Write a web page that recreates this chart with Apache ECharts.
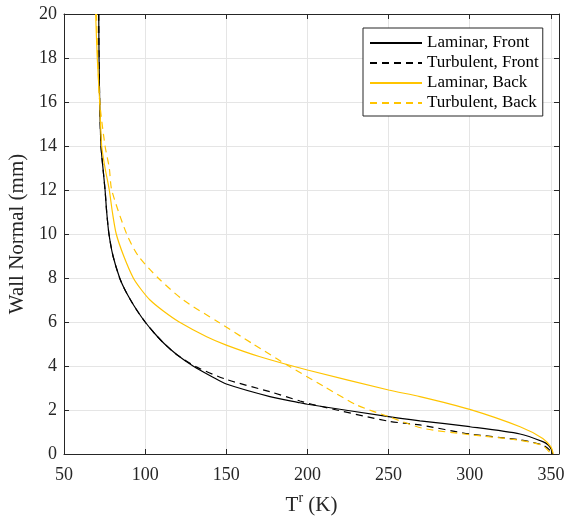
<!DOCTYPE html>
<html>
<head>
<meta charset="utf-8">
<script src="https://cdn.jsdelivr.net/npm/echarts@6/dist/echarts.min.js"></script>
<style>html,body{margin:0;padding:0;background:#fff}#c{width:566px;height:516px}</style>
</head>
<body>
<div id="c"></div>
<script>
// ---- data ----
const seriesNames = ['Laminar, Front', 'Turbulent, Front', 'Laminar, Back', 'Turbulent, Back'];

const laminarFrontT = [71.4, 71.6, 72.0, 72.8, 74.0, 75.3, 76.3, 77.7, 80.2, 84.3, 87.3, 91.0, 95.2, 100.0, 105.6, 112.0, 119.8, 129.5, 141.5, 150, 176.9, 195.4, 200, 250, 269.3, 300, 331, 345, 348.5, 350.5, 351];
const laminarFrontY = [20, 18, 16, 14, 13, 12, 11, 10, 9, 8, 7.5, 7, 6.5, 6, 5.5, 5, 4.5, 4, 3.5, 3.18, 2.61, 2.33, 2.26, 1.70, 1.51, 1.24, 0.91, 0.56, 0.40, 0.18, 0];

const turbulentFrontT = [71.4, 71.6, 72.0, 72.8, 74.0, 75.3, 76.3, 77.7, 80.2, 84.3, 87.3, 91.0, 95.2, 100.0, 105.6, 112.0, 119.8, 131.8, 150, 176.9, 195.4, 205, 250, 269.3, 300, 331, 345, 349, 350.5];
const turbulentFrontY = [20, 18, 16, 14, 13, 12, 11, 10, 9, 8, 7.5, 7, 6.5, 6, 5.5, 5, 4.5, 3.95, 3.39, 2.83, 2.41, 2.22, 1.49, 1.32, 0.91, 0.64, 0.41, 0.2, 0];

const laminarBackT = [69.5, 70.5, 72.0, 73.2, 75.3, 77.9, 79.8, 82.2, 86.8, 92.7, 97.3, 103.0, 111.2, 121.0, 137.9, 150, 170.8, 200, 250, 269.3, 300, 331, 345, 350, 351.5];
const laminarBackY = [20, 18, 16, 14, 13, 12, 11, 10, 9, 8, 7.5, 7, 6.5, 6, 5.33, 4.95, 4.42, 3.82, 2.91, 2.61, 2.03, 1.24, 0.71, 0.32, 0];

const turbulentBackT = [70.0, 70.8, 72.0, 75.3, 77.9, 79.4, 88.6, 95.8, 108, 123.5, 145, 166.5, 188.5, 210, 230.3, 250, 271, 300, 331, 345, 350];
const turbulentBackY = [20, 18, 16, 14, 13, 12, 10, 9, 8, 7, 6, 5, 4, 3.08, 2.23, 1.70, 1.17, 0.88, 0.62, 0.38, 0];

const xTickMin = 50, xTickMax = 355, xTickStep = 50;
const yTickMin = 0, yTickMax = 20, yTickStep = 2;

// ---- chart ----
const font = 'Liberation Serif';
const axisColor = '#262626';
const yellow = '#FFC400';

function pairs(xs, ys) { return xs.map((x, i) => [x, ys[i]]); }

const seriesDefs = [
  { name: seriesNames[0], data: pairs(laminarFrontT, laminarFrontY), color: '#000000', type: 'solid' },
  { name: seriesNames[1], data: pairs(turbulentFrontT, turbulentFrontY), color: '#000000', type: [7, 5] },
  { name: seriesNames[2], data: pairs(laminarBackT, laminarBackY), color: yellow, type: 'solid' },
  { name: seriesNames[3], data: pairs(turbulentBackT, turbulentBackY), color: yellow, type: [7, 5] }
];

const chart = echarts.init(document.getElementById('c'), null, { renderer: 'canvas' });

const baseAxis = {
  axisLine: { show: true, onZero: false, lineStyle: { color: axisColor, width: 1 } },
  axisTick: { show: true, inside: true, length: 5, lineStyle: { color: axisColor } },
  axisLabel: { color: axisColor, fontFamily: font, fontSize: 18 },
  splitLine: { show: false }
};

chart.setOption({
  animation: false,
  backgroundColor: '#ffffff',
  grid: { left: 64, right: 7, top: 14, bottom: 62, containLabel: false, outerBoundsMode: 'none' },
  legend: {
    orient: 'vertical',
    left: 363,
    top: 28,
    padding: [5, 4, 3, 6],
    itemGap: 0,
    itemWidth: 52,
    itemHeight: 20,
    backgroundColor: '#ffffff',
    borderColor: axisColor,
    borderWidth: 1,
    borderRadius: 0,
    itemStyle: { opacity: 0 },
    textStyle: { fontFamily: font, fontSize: 17, color: '#000', lineHeight: 20 },
    data: seriesNames
  },
  xAxis: [
    Object.assign({}, baseAxis, {
      type: 'value', position: 'bottom', min: xTickMin, max: xTickMax, interval: xTickStep,
      name: '{t|T}{s|r}{t| (K)}',
      nameLocation: 'middle', nameGap: 37,
      nameTextStyle: {
        rich: {
          t: { fontFamily: font, fontSize: 21, color: axisColor, verticalAlign: 'bottom' },
          s: { fontFamily: font, fontSize: 14, color: axisColor, verticalAlign: 'top', padding: [0, 0, 11, 0] }
        }
      },
      axisLabel: { color: axisColor, fontFamily: font, fontSize: 18, margin: 12,
        formatter: v => (v % 50 === 0 ? String(v) : '') },
      splitLine: { show: true, lineStyle: { color: '#e5e5e5', width: 1 } }
    }),
    Object.assign({}, baseAxis, {
      type: 'value', position: 'top', min: xTickMin, max: xTickMax, interval: xTickStep,
      axisLabel: { show: false }
    })
  ],
  yAxis: [
    Object.assign({}, baseAxis, {
      type: 'value', position: 'left', min: yTickMin, max: yTickMax, interval: yTickStep,
      name: 'Wall Normal (mm)', nameLocation: 'middle', nameGap: 30, nameRotate: 90,
      nameTextStyle: { fontFamily: font, fontSize: 21, color: axisColor },
      axisLabel: { color: axisColor, fontFamily: font, fontSize: 18, margin: 7 },
      splitLine: { show: true, lineStyle: { color: '#e5e5e5', width: 1 } }
    }),
    Object.assign({}, baseAxis, {
      type: 'value', position: 'right', min: yTickMin, max: yTickMax, interval: yTickStep,
      axisLabel: { show: false }
    })
  ],
  series: seriesDefs.map(s => ({
    name: s.name,
    type: 'line',
    xAxisIndex: 0,
    yAxisIndex: 0,
    data: s.data,
    showSymbol: false,
    symbol: 'none',
    smooth: 0.25,
    lineStyle: { color: s.color, width: 1.2, type: s.type },
    itemStyle: { color: s.color },
    z: 3
  }))
});
</script>
</body>
</html>
